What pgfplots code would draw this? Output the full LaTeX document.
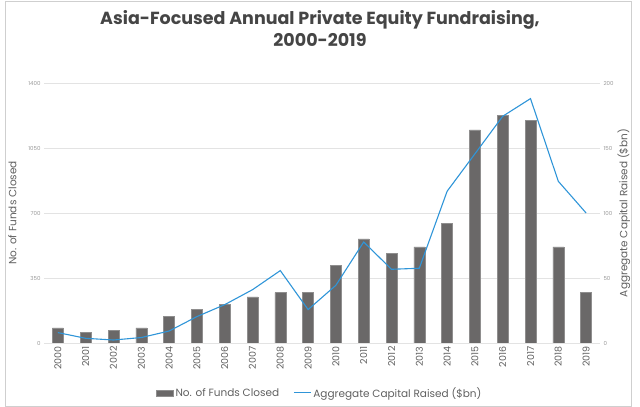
\documentclass[border=0pt]{standalone}
\usepackage{pgfplots}
\pgfplotsset{compat=1.18}
\usepackage{fontspec}
\setmainfont{Poppins}

\definecolor{barcol}{HTML}{6A6868}
\definecolor{linecol}{HTML}{2F95D8}
\definecolor{gridcol}{HTML}{E3E3E3}
\definecolor{txtcol}{HTML}{606060}
\definecolor{tickcol}{HTML}{9A9A9A}
\definecolor{titlecol}{HTML}{454545}

\begin{document}
\begin{tikzpicture}
\useasboundingbox (0,0) rectangle (640pt,407pt);
\draw[gridcol!80!gray] (5.5pt,1pt) rectangle (631.5pt,406pt);
\node[font=\fontsize{17.5}{22}\selectfont\bfseries, text=titlecol, align=center]
  at (320pt,378pt) {Asia-Focused Annual Private Equity Fundraising,\\2000-2019};

% number of funds closed (left axis)
\begin{axis}[
    at={(44pt,64pt)}, anchor=south west,
    scale only axis, width=556pt, height=260pt,
    xmin=-0.5, xmax=19.5,
    ymin=0, ymax=1400,
    ytick={0,350,700,1050,1400},
    xtick={0,...,19},
    xticklabels={2000,2001,2002,2003,2004,2005,2006,2007,2008,2009,2010,2011,2012,2013,2014,2015,2016,2017,2018,2019},
    x tick label style={rotate=90, anchor=east, font=\fontsize{9.5}{10}\selectfont, text=txtcol},
    y tick label style={font=\fontsize{5.5}{6}\selectfont, text=tickcol},
    /pgf/number format/assume math mode=true,
    /pgf/number format/1000 sep={},
    ymajorgrids, grid style={gridcol, line width=0.8pt},
    axis line style={draw=none}, tick style={draw=none},
    ylabel={No. of Funds Closed},
    ylabel style={at={(axis description cs:-0.057,0.5)}, anchor=center,
      font=\fontsize{10.5}{12}\selectfont, text=txtcol},
]
\addplot[ybar, bar width=11pt, fill=barcol, draw=barcol!75!white] coordinates {
(0,81) (1,59) (2,68) (3,81) (4,145) (5,181) (6,207) (7,248) (8,271) (9,271)
(10,417) (11,560) (12,483) (13,517) (14,646) (15,1147) (16,1226) (17,1199)
(18,517) (19,273)
};
\end{axis}

% aggregate capital raised (right axis)
\begin{axis}[
    at={(44pt,64pt)}, anchor=south west,
    scale only axis, width=556pt, height=260pt,
    xmin=-0.5, xmax=19.5,
    ymin=0, ymax=200,
    ytick={0,50,100,150,200},
    axis y line*=right, hide x axis,
    y tick label style={font=\fontsize{5.5}{6}\selectfont, text=tickcol},
    /pgf/number format/assume math mode=true,
    axis line style={draw=none}, tick style={draw=none},
    ylabel={Aggregate Capital Raised (\$bn)},
    ylabel style={at={(axis description cs:1.043,0.5)}, anchor=center,
      font=\fontsize{10.5}{12}\selectfont, text=txtcol},
    legend style={at={(0.496,-0.192)}, anchor=center, draw=none, fill=none,
      legend columns=2, font=\fontsize{10.5}{12}\selectfont, text=txtcol,
      /tikz/every even column/.append style={column sep=12pt}},
    legend cell align=left,
]
\addlegendimage{area legend, fill=barcol, draw=barcol!75!white}
\addlegendentry{No. of Funds Closed}
\addplot[linecol, line width=1.1pt] coordinates {
(0,8) (1,3.6) (2,2.3) (3,4.2) (4,9.2) (5,20.3) (6,29.5) (7,41) (8,55.7) (9,25.7)
(10,44.4) (11,77.7) (12,56.7) (13,57.5) (14,116.7) (15,145.5) (16,174.4) (17,188)
(18,124.4) (19,100)
};
\addlegendentry{Aggregate Capital Raised (\$bn)}
\end{axis}
\end{tikzpicture}
\end{document}
